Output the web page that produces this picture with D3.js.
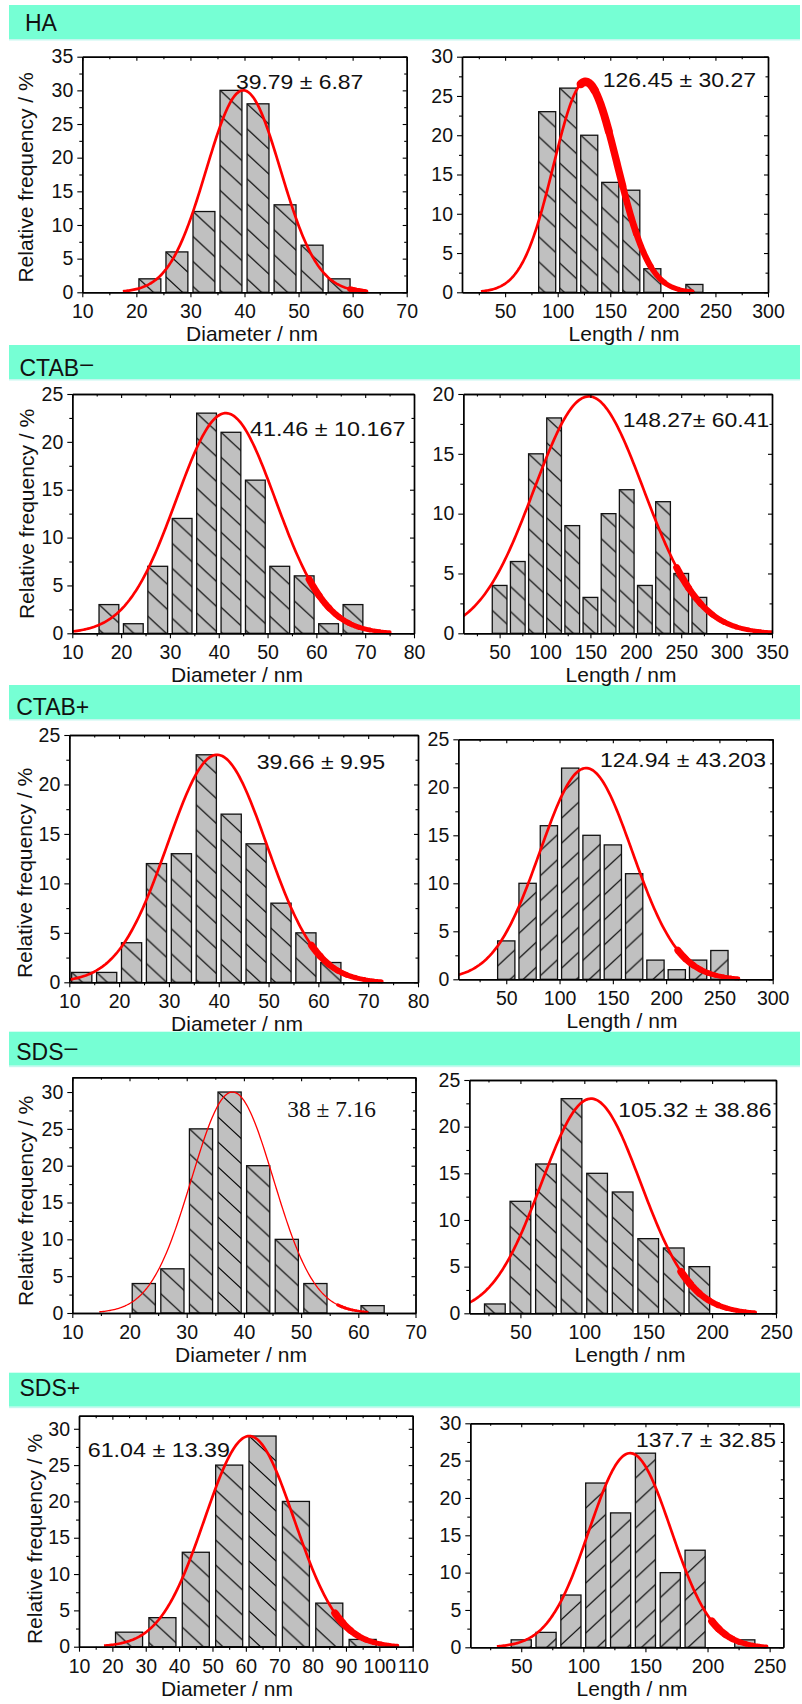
<!DOCTYPE html>
<html lang="en">
<head>
<meta charset="UTF-8">
<title>Size distributions</title>
<script src="https://cdn.jsdelivr.net/npm/d3@7"></script>
<style>
  body{margin:0;background:#fff}
  text{font-family:"Liberation Sans",Arial,sans-serif}
</style>
</head>
<body>
<svg id="fig" width="802" height="1704"></svg>
<script>
    //data
    const sections=["HA","CTAB","CTAB+","SDS","SDS+"]
    const sectionSup=["","–","","–",""]

    const haDiamBins=[22.5,27.5,32.5,37.5,42.5,47.5,52.5,57.5]
    const haDiamFreq=[2,6,12,30,28,13,7,2]
    const haLenBins=[90,110,130,150,170,190,210,230]
    const haLenFreq=[23,26,20,14,13,3,0,1]
    const ctabMDiamBins=[17.5,22.5,27.5,32.5,37.5,42.5,47.5,52.5,57.5,62.5,67.5]
    const ctabMDiamFreq=[3,1,7,12,23,21,16,7,6,1,3]
    const ctabMLenBins=[50,70,90,110,130,150,170,190,210,230,250,270]
    const ctabMLenFreq=[4,6,15,18,9,3,10,12,4,11,5,3]
    const ctabPDiamBins=[12.5,17.5,22.5,27.5,32.5,37.5,42.5,47.5,52.5,57.5,62.5]
    const ctabPDiamFreq=[1,1,4,12,13,23,17,14,8,5,2]
    const ctabPLenBins=[50,70,90,110,130,150,170,190,210,230,250]
    const ctabPLenFreq=[4,10,16,22,15,14,11,2,1,2,3]
    const sdsMDiamBins=[22.5,27.5,32.5,37.5,42.5,47.5,52.5,57.5,62.5]
    const sdsMDiamFreq=[4,6,25,30,20,10,4,0,1]
    const sdsMLenBins=[30,50,70,90,110,130,150,170,190]
    const sdsMLenFreq=[1,12,16,23,15,13,8,7,5]
    const sdsPDiamBins=[25,35,45,55,65,75,85,95]
    const sdsPDiamFreq=[2,4,13,25,29,20,6,1]
    const sdsPLenBins=[50,70,90,110,130,150,170,190,210,230]
    const sdsPLenFreq=[1,2,7,22,18,26,10,13,0,1]

    //gaussian fits: mean and sd as printed, peak and drawn extent
    const fitMean=[39.79,126.45,41.46,148.27,39.66,124.94,38,105.32,61.04,137.7]
    const fitSd=[6.87,30.27,10.167,60.41,9.95,43.203,7.16,38.86,13.39,32.85]
    const fitPeak=[30,26.8,23,19.8,23,22,30,23,29,26]
    const fitFrom=[17.5,27,10,10,10,5,14.7,10,17.5,30.4]
    const fitTo=[62.5,228,75,350,72.7,267.7,61.6,233.6,105.4,247.4]
    const fitHeavyFrom=[59.5,122,58.5,245,58.6,211,56.4,175.7,86.7,203.5]
    const fitLabels=["39.79 ± 6.87","126.45 ± 30.27","41.46 ± 10.167","148.27± 60.41","39.66 ± 9.95",
        "124.94 ± 43.203","38 ± 7.16","105.32 ± 38.86","61.04 ± 13.39","137.7 ± 32.85"]

    //axes
    const xDomains=[[10,70],[9,300],[10,80],[10,350],[10,80],[5,300],[10,70],[10,250],[10,110],[9,261]]
    const yDomains=[[0,35],[0,30],[0,25],[0,20],[0,25],[0,25],[0,32],[0,25],[0,31.8],[0,30]]
    const xTicks=[
        [10,20,30,40,50,60,70],[50,100,150,200,250,300],
        [10,20,30,40,50,60,70,80],[50,100,150,200,250,300,350],
        [10,20,30,40,50,60,70,80],[50,100,150,200,250,300],
        [10,20,30,40,50,60,70],[50,100,150,200,250],
        [10,20,30,40,50,60,70,80,90,100,110],[50,100,150,200,250]]
    const yTicks=[
        [0,5,10,15,20,25,30,35],[0,5,10,15,20,25,30],
        [0,5,10,15,20,25],[0,5,10,15,20],
        [0,5,10,15,20,25],[0,5,10,15,20,25],
        [0,5,10,15,20,25,30],[0,5,10,15,20,25],
        [0,5,10,15,20,25,30],[0,5,10,15,20,25,30]]
    const xTitles=["Diameter / nm","Length / nm"]
    const yTitle="Relative frequency / %"

    const bins=[haDiamBins,haLenBins,ctabMDiamBins,ctabMLenBins,ctabPDiamBins,ctabPLenBins,sdsMDiamBins,sdsMLenBins,sdsPDiamBins,sdsPLenBins]
    const freqs=[haDiamFreq,haLenFreq,ctabMDiamFreq,ctabMLenFreq,ctabPDiamFreq,ctabPLenFreq,sdsMDiamFreq,sdsMLenFreq,sdsPDiamFreq,sdsPLenFreq]

    //layout (pixels)
    const bandTop=[5,345,685,1031.7,1372.7]
    const bandText=[[25,30.7],[19.5,376],[16.2,715],[16.2,1060],[19.5,1395.7]]
    const panels=[
        {l:82.3,r:406.7,t:56.7,b:292.3,hatch:'\\',tx:252,yt:[32.7,177.5],lx:236,ly:89.3,lw:127.3,cw:2.7,hw:[5.5,4.5]},
        {l:462,r:768,t:56.7,b:292.3,hatch:'\\',tx:624,lx:602.7,ly:87.3,lw:153.3,cw:2.7,hw:[8.5,4.5]},
        {l:72.3,r:414,t:394,b:633.3,hatch:'\\',tx:237,yt:[34.3,514],lx:250,ly:435.7,lw:155.4,cw:2.7,hw:[7,4]},
        {l:463.3,r:772,t:394,b:633.3,hatch:'\\',tx:621,lx:622.7,ly:427.3,lw:146.6,cw:2.7,hw:[7,4]},
        {l:69.3,r:418,t:735,b:982.3,hatch:'\\',tx:237,yt:[31.7,873],lx:256.7,ly:769.3,lw:128.3,cw:2.7,hw:[7,4]},
        {l:458.3,r:772.7,t:739.3,b:979.3,hatch:'/',tx:622,lx:600,ly:766.7,lw:166,cw:2.7,hw:[7,4]},
        {l:72.3,r:415.5,t:1077.3,b:1313,hatch:'\\',tx:241,yt:[33.3,1201],lx:287.3,ly:1116.7,lw:88.7,cw:1.3,hw:[3.2,2.2],serif:true},
        {l:469.3,r:776,t:1080,b:1313.3,hatch:'\\',tx:630,lx:618.3,ly:1116.7,lw:153.3,cw:2.7,hw:[7.5,4]},
        {l:79,r:412.7,t:1415.7,b:1646.7,hatch:'\\',tx:227,yt:[41.7,1539],lx:87.7,ly:1457.3,lw:142.3,cw:2.7,hw:[7.5,4]},
        {l:470.3,r:783.3,t:1423.3,b:1647.3,hatch:'/',tx:632,lx:636,ly:1447.3,lw:140,cw:2.7,hw:[7.5,4]}
    ]
    const HW=27,HH=25   //hatch tile

    const svg=d3.select('#fig')
    const defs=svg.append('defs')

    //section bands
    sections.forEach((s,i)=>{
        svg.append('rect').attr('x',9).attr('y',bandTop[i]).attr('width',791).attr('height',34).attr('fill','#76ffd4')
        svg.append('rect').attr('x',9).attr('y',bandTop[i]+34).attr('width',791).attr('height',1.5).attr('fill','#c6f7ef')
        let t=svg.append('text').attr('x',bandText[i][0]).attr('y',bandText[i][1])
            .attr('font-size',23).attr('fill','#111').text(s)
        if(sectionSup[i]) t.append('tspan').attr('dy',-5.5).attr('dx',1).text(sectionSup[i])
    })

    function minorOf(dom,step){
        let h=step/2
        return d3.range(Math.ceil(dom[0]/h)*h,dom[1]+1e-9,h).filter(v=>Math.abs(v/step-Math.round(v/step))>1e-6)
    }

    panels.forEach((p,i)=>{
        let x=d3.scaleLinear().domain(xDomains[i]).range([p.l,p.r])
        let y=d3.scaleLinear().domain(yDomains[i]).range([p.b,p.t])
        let g=svg.append('g')
        let bw=(bins[i][1]-bins[i][0])*0.81
        let data=bins[i].map((c,j)=>({c:c,f:freqs[i][j],j:j})).filter(d=>d.f>0)

        //hatch pattern anchored at each bar's top-left corner
        let path=p.hatch==='\\'
            ?`M${-HW},${-HH}L${2*HW},${2*HH}M0,${-HH}L${2*HW},${HH}M${-HW},0L${HW},${2*HH}`
            :`M${-HW},${2*HH}L${2*HW},${-HH}M${-HW},${HH}L${HW},${-HH}M0,${2*HH}L${2*HW},0`
        data.forEach(d=>{
            defs.append('pattern').attr('id',`h${i}_${d.j}`).attr('patternUnits','userSpaceOnUse')
                .attr('x',x(d.c-bw/2)).attr('y',y(d.f)).attr('width',HW).attr('height',HH)
                .append('path').attr('d',path).attr('stroke','#000').attr('stroke-width',1.15).attr('fill','none')
        })
        let bar=g.selectAll('g.bar').data(data).enter().append('g')
        bar.append('rect').attr('fill','#c0c0c0')
        bar.append('rect').attr('fill',d=>`url(#h${i}_${d.j})`)
        bar.append('rect').attr('fill','none').attr('stroke','#111').attr('stroke-width',1.3)
        bar.selectAll('rect')
            .attr('x',d=>x(d.c-bw/2)).attr('width',d=>x(d.c+bw/2)-x(d.c-bw/2))
            .attr('y',d=>y(d.f)).attr('height',d=>y(0)-y(d.f))

        //fitted gaussian
        let gauss=v=>fitPeak[i]*Math.exp(-0.5*Math.pow((v-fitMean[i])/fitSd[i],2))
        let line=d3.line().x(v=>x(v)).y(v=>y(gauss(v)))
        defs.append('clipPath').attr('id','c'+i).append('rect')
            .attr('x',p.l).attr('y',p.t).attr('width',p.r-p.l).attr('height',p.b-p.t+3)
        let cg=g.append('g').attr('clip-path',`url(#c${i})`)
        cg.append('path').attr('d',line(d3.range(201).map(k=>fitFrom[i]+(fitTo[i]-fitFrom[i])*k/200)))
            .attr('fill','none').attr('stroke','#ff0000').attr('stroke-width',p.cw)
        let n=8
        for(let k=0;k<n;k++){
            let a=fitHeavyFrom[i]+(fitTo[i]-fitHeavyFrom[i])*k/n
            let b=fitHeavyFrom[i]+(fitTo[i]-fitHeavyFrom[i])*(k+1)/n
            cg.append('path').attr('d',line(d3.range(21).map(m=>a+(b-a)*m/20)))
                .attr('fill','none').attr('stroke','#ff0000').attr('stroke-linecap','round')
                .attr('stroke-width',p.hw[0]+(p.hw[1]-p.hw[0])*k/(n-1))
        }

        //axes
        let xs=xTicks[i][1]-xTicks[i][0], ys=yTicks[i][1]-yTicks[i][0]
        let xm=minorOf(xDomains[i],xs), ym=minorOf(yDomains[i],ys)
        let xa=g.append('g').attr('transform',`translate(0,${p.b})`)
            .call(d3.axisBottom(x).tickValues(xTicks[i]).tickSize(5).tickSizeOuter(0).tickPadding(7))
        g.append('g').attr('transform',`translate(0,${p.b})`)
            .call(d3.axisBottom(x).tickValues(xm).tickSize(3).tickSizeOuter(0).tickFormat(''))
        let ya=g.append('g').attr('transform',`translate(${p.l},0)`)
            .call(d3.axisLeft(y).tickValues(yTicks[i]).tickSize(5).tickSizeOuter(0).tickPadding(4))
        g.append('g').attr('transform',`translate(${p.l},0)`)
            .call(d3.axisLeft(y).tickValues(ym).tickSize(3).tickSizeOuter(0).tickFormat(''))
        g.append('g').attr('transform',`translate(0,${p.t})`)
            .call(d3.axisTop(x).tickValues(xTicks[i]).tickSize(-4).tickSizeOuter(0).tickFormat(''))
        g.append('g').attr('transform',`translate(0,${p.t})`)
            .call(d3.axisTop(x).tickValues(xm).tickSize(-2.5).tickSizeOuter(0).tickFormat(''))
        g.append('g').attr('transform',`translate(${p.r},0)`)
            .call(d3.axisRight(y).tickValues(yTicks[i]).tickSize(-4).tickSizeOuter(0).tickFormat(''))
        g.append('g').attr('transform',`translate(${p.r},0)`)
            .call(d3.axisRight(y).tickValues(ym).tickSize(-2.5).tickSizeOuter(0).tickFormat(''))
        g.selectAll('.domain').attr('stroke','#000').attr('stroke-width',1.4)
        g.selectAll('.tick line').attr('stroke','#000').attr('stroke-width',1.1)
        g.selectAll('.tick text').attr('fill','#111')
        xa.attr('font-size',19.5).attr('font-family','"Liberation Sans",Arial,sans-serif')
        ya.attr('font-size',19.5).attr('font-family','"Liberation Sans",Arial,sans-serif')

        //titles
        g.append('text').attr('x',p.tx).attr('y',p.b+49).attr('text-anchor','middle')
            .attr('font-size',21).attr('fill','#111').text(xTitles[i%2])
        if(p.yt) g.append('text').attr('transform',`translate(${p.yt[0]},${p.yt[1]}) rotate(-90)`)
            .attr('text-anchor','middle').attr('font-size',21).attr('fill','#111').text(yTitle)

        //fit label
        g.append('text').attr('x',p.lx).attr('y',p.ly)
            .attr('font-size',p.serif?22.5:21).attr('fill','#111')
            .style('font-family',p.serif?'"Liberation Serif","Times New Roman",serif':null)
            .attr('textLength',p.lw).attr('lengthAdjust','spacingAndGlyphs')
            .text(fitLabels[i])
    })
</script>
</body>
</html>
